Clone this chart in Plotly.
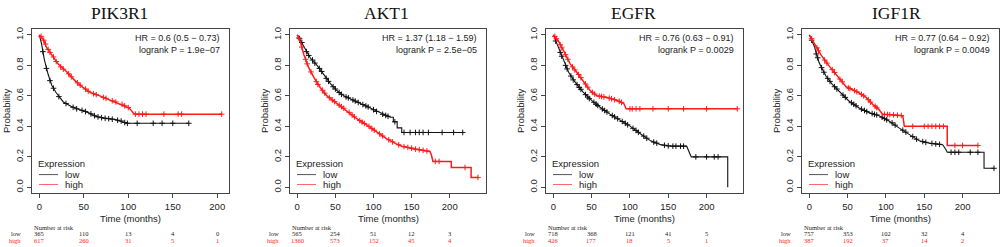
import plotly.graph_objects as go

W, H = 1003, 247

# ---------------- data ----------------
genes = ["PIK3R1", "AKT1", "EGFR", "IGF1R"]
hr_text = ["HR = 0.6 (0.5 − 0.73)", "HR = 1.37 (1.18 − 1.59)",
           "HR = 0.76 (0.63 − 0.91)", "HR = 0.77 (0.64 − 0.92)"]
p_text = ["logrank P = 1.9e−07", "logrank P = 2.5e−05",
          "logrank P = 0.0029", "logrank P = 0.0049"]
x_ticks = [0, 50, 100, 150, 200]
y_ticks = [0.0, 0.2, 0.4, 0.6, 0.8, 1.0]
y_ticklabels = ["0.0", "0.2", "0.4", "0.6", "0.8", "1.0"]
risk_low = [[365, 110, 13, 4, 0], [565, 254, 51, 12, 3],
            [718, 368, 121, 41, 5], [757, 353, 102, 32, 4]]
risk_high = [[617, 260, 31, 5, 1], [1360, 573, 152, 45, 4],
             [426, 177, 18, 5, 1], [387, 192, 37, 14, 2]]
x_max = [205, 238, 238, 238]

# PIK3R1
pik3r1_low_t = [0, 2.6, 5.6, 10, 14, 19, 27, 36, 45, 55, 64, 72, 86, 95, 98, 168]
pik3r1_low_s = [1.0, 0.94, 0.84, 0.74, 0.67, 0.62, 0.56, 0.53, 0.51, 0.49, 0.465, 0.455, 0.445, 0.43, 0.42, 0.42]
pik3r1_low_ct = [4, 8, 12, 16, 22, 30, 38, 42, 48, 52, 58, 62, 66, 70, 74, 78, 82, 88, 92, 96, 99, 110, 128, 138, 150, 168]
pik3r1_low_cs = [0.89, 0.78, 0.70, 0.65, 0.595, 0.55, 0.525, 0.515, 0.505, 0.497, 0.482, 0.47, 0.462, 0.457, 0.453, 0.45, 0.447, 0.44, 0.435, 0.425, 0.42, 0.42, 0.42, 0.42, 0.42, 0.42]
pik3r1_high_t = [0, 4.5, 8, 14, 21, 30.5, 40, 49, 58, 68, 79, 90, 98, 101, 104, 106, 109, 205]
pik3r1_high_s = [1.0, 0.97, 0.92, 0.87, 0.81, 0.76, 0.70, 0.655, 0.62, 0.60, 0.575, 0.55, 0.53, 0.52, 0.50, 0.485, 0.48, 0.48]
pik3r1_high_ct = [2, 5, 7, 10, 12, 16, 19, 24, 27, 33, 36, 43, 46, 52, 55, 61, 64, 72, 75, 82, 86, 93, 96, 100, 108, 112, 116, 120, 140, 156, 160, 205]
pik3r1_high_cs = [0.99, 0.965, 0.94, 0.905, 0.885, 0.855, 0.825, 0.79, 0.775, 0.745, 0.725, 0.685, 0.67, 0.645, 0.63, 0.614, 0.608, 0.59, 0.584, 0.568, 0.56, 0.545, 0.535, 0.523, 0.48, 0.48, 0.48, 0.48, 0.48, 0.48, 0.48, 0.48]

# AKT1
akt1_low_t = [0, 8.7, 17, 26, 35, 43.5, 52, 61, 70, 83, 96, 109, 122, 126, 126, 131, 131, 137, 137, 217]
akt1_low_s = [1.0, 0.925, 0.85, 0.80, 0.74, 0.68, 0.635, 0.60, 0.58, 0.55, 0.52, 0.485, 0.46, 0.46, 0.43, 0.43, 0.39, 0.39, 0.36, 0.36]
akt1_low_ct = [3, 6, 12, 15, 20, 23, 29, 32, 38, 41, 47, 50, 55, 58, 64, 67, 73, 76, 80, 86, 90, 93, 100, 104, 112, 116, 119, 128, 140, 148, 155, 160, 165, 172, 190, 205, 217]
akt1_low_cs = [0.975, 0.95, 0.89, 0.865, 0.835, 0.815, 0.78, 0.76, 0.715, 0.695, 0.66, 0.645, 0.622, 0.61, 0.593, 0.587, 0.573, 0.566, 0.557, 0.543, 0.534, 0.527, 0.509, 0.498, 0.479, 0.472, 0.466, 0.43, 0.36, 0.36, 0.36, 0.36, 0.36, 0.36, 0.36, 0.36, 0.36]
akt1_high_t = [0, 4.3, 8.7, 15, 22, 30, 39, 52, 65, 78, 91, 104, 117, 130, 137, 156, 174, 176, 178, 202, 202, 228, 228, 237]
akt1_high_s = [1.0, 0.95, 0.87, 0.785, 0.72, 0.655, 0.60, 0.55, 0.505, 0.45, 0.41, 0.365, 0.32, 0.285, 0.27, 0.25, 0.235, 0.21, 0.17, 0.17, 0.13, 0.13, 0.065, 0.065]
akt1_high_ct = [2, 6, 11, 13, 18, 25, 27, 33, 36, 42, 46, 49, 55, 58, 61, 68, 72, 75, 82, 85, 88, 94, 98, 101, 108, 112, 120, 125, 133, 140, 145, 150, 155, 160, 165, 170, 181, 186, 220, 237]
akt1_high_cs = [0.98, 0.92, 0.84, 0.81, 0.757, 0.693, 0.675, 0.637, 0.618, 0.588, 0.573, 0.562, 0.539, 0.529, 0.519, 0.492, 0.475, 0.462, 0.438, 0.428, 0.419, 0.40, 0.385, 0.375, 0.351, 0.337, 0.312, 0.298, 0.279, 0.267, 0.262, 0.257, 0.251, 0.247, 0.243, 0.239, 0.17, 0.17, 0.13, 0.065]

# EGFR
egfr_low_t = [0, 6.6, 13, 20, 28.5, 39, 50, 61, 74, 87.5, 100.6, 114, 127, 140, 153, 174, 176, 180, 227.6, 227.6]
egfr_low_s = [1.0, 0.92, 0.83, 0.755, 0.69, 0.625, 0.57, 0.525, 0.48, 0.44, 0.40, 0.35, 0.305, 0.28, 0.27, 0.27, 0.245, 0.20, 0.20, 0.0]
egfr_low_ct = [3, 9, 11, 16, 18, 23, 26, 31, 34, 36, 42, 45, 47, 53, 56, 58, 64, 67, 70, 77, 80, 84, 90, 94, 97, 104, 108, 111, 118, 122, 131, 135, 145, 150, 156, 160, 166, 170, 186, 200, 210, 215]
egfr_low_cs = [0.96, 0.885, 0.86, 0.80, 0.777, 0.73, 0.705, 0.674, 0.655, 0.643, 0.608, 0.592, 0.582, 0.558, 0.545, 0.537, 0.514, 0.504, 0.494, 0.471, 0.462, 0.45, 0.432, 0.42, 0.41, 0.387, 0.373, 0.361, 0.336, 0.322, 0.297, 0.29, 0.276, 0.272, 0.27, 0.27, 0.27, 0.27, 0.20, 0.20, 0.20, 0.20]
egfr_high_t = [0, 6.6, 13, 22, 30.6, 39, 48, 57, 70, 83, 92, 95, 97, 240]
egfr_high_s = [1.0, 0.96, 0.90, 0.81, 0.755, 0.70, 0.635, 0.60, 0.59, 0.57, 0.55, 0.515, 0.515, 0.515]
egfr_high_ct = [2, 4, 9, 11, 16, 19, 25, 28, 33, 36, 42, 45, 51, 54, 60, 63, 66, 73, 76, 80, 86, 89, 100, 103, 108, 113, 130, 150, 170, 200, 240]
egfr_high_cs = [0.99, 0.975, 0.935, 0.915, 0.87, 0.84, 0.79, 0.77, 0.74, 0.72, 0.678, 0.657, 0.623, 0.612, 0.598, 0.596, 0.593, 0.585, 0.581, 0.575, 0.565, 0.558, 0.515, 0.515, 0.515, 0.515, 0.515, 0.515, 0.515, 0.515, 0.515]

# IGF1R
igf1r_low_t = [0, 6.5, 13, 21.7, 30, 41, 52, 65, 78, 91, 104, 117, 130, 143.5, 156.5, 174, 178, 180, 228, 228, 241]
igf1r_low_s = [1.0, 0.925, 0.815, 0.73, 0.675, 0.62, 0.565, 0.52, 0.49, 0.47, 0.435, 0.39, 0.35, 0.305, 0.29, 0.28, 0.25, 0.23, 0.23, 0.125, 0.125]
igf1r_low_ct = [3, 9, 11, 16, 19, 24, 27, 33, 36, 44, 47, 55, 58, 61, 68, 72, 75, 82, 85, 88, 95, 98, 101, 108, 112, 122, 126, 135, 140, 148, 152, 160, 165, 170, 185, 190, 195, 210, 220, 241]
igf1r_low_cs = [0.965, 0.875, 0.85, 0.785, 0.755, 0.715, 0.695, 0.66, 0.645, 0.605, 0.59, 0.555, 0.545, 0.535, 0.513, 0.504, 0.497, 0.484, 0.479, 0.475, 0.46, 0.452, 0.443, 0.423, 0.408, 0.375, 0.362, 0.333, 0.316, 0.30, 0.295, 0.288, 0.285, 0.282, 0.23, 0.23, 0.23, 0.23, 0.23, 0.125]
igf1r_high_t = [0, 6.5, 15, 26, 37, 48, 56.5, 65, 74, 82.6, 91, 95.6, 122, 124, 180, 180, 220]
igf1r_high_s = [1.0, 0.945, 0.87, 0.795, 0.73, 0.66, 0.64, 0.62, 0.59, 0.545, 0.51, 0.48, 0.47, 0.40, 0.40, 0.275, 0.275]
igf1r_high_ct = [3, 10, 12, 20, 23, 30, 33, 40, 43, 51, 53, 59, 62, 68, 71, 77, 80, 86, 88, 98, 102, 105, 110, 115, 120, 135, 150, 155, 160, 165, 170, 175, 190, 200, 220]
igf1r_high_cs = [0.975, 0.915, 0.895, 0.835, 0.815, 0.772, 0.753, 0.71, 0.692, 0.652, 0.648, 0.634, 0.627, 0.61, 0.60, 0.575, 0.559, 0.532, 0.522, 0.479, 0.478, 0.477, 0.475, 0.473, 0.471, 0.40, 0.40, 0.40, 0.40, 0.40, 0.40, 0.40, 0.275, 0.275, 0.275]

curves = [
    (pik3r1_low_t, pik3r1_low_s, pik3r1_low_ct, pik3r1_low_cs,
     pik3r1_high_t, pik3r1_high_s, pik3r1_high_ct, pik3r1_high_cs),
    (akt1_low_t, akt1_low_s, akt1_low_ct, akt1_low_cs,
     akt1_high_t, akt1_high_s, akt1_high_ct, akt1_high_cs),
    (egfr_low_t, egfr_low_s, egfr_low_ct, egfr_low_cs,
     egfr_high_t, egfr_high_s, egfr_high_ct, egfr_high_cs),
    (igf1r_low_t, igf1r_low_s, igf1r_low_ct, igf1r_low_cs,
     igf1r_high_t, igf1r_high_s, igf1r_high_ct, igf1r_high_cs),
]

# ---------------- layout geometry (pixels) ----------------
box_left = [32, 290, 546, 802]
box_right = [229, 486, 743, 999]
box_top, box_bottom = 27, 193
title_cx = [119.5, 386, 633.5, 896]

SANS = "Liberation Sans, Arial, sans-serif"
SERIF = "Liberation Serif, Times New Roman, serif"
RED = "#ff1a1a"
BLACK = "#111111"
AXC = "#444444"


def px(x):
    return x / W


def py(y):
    return 1 - y / H


fig = go.Figure()
annotations = []
shapes = []
layout = dict(width=W, height=H, autosize=False,
              margin=dict(l=0, r=0, t=0, b=0),
              paper_bgcolor="white", plot_bgcolor="white",
              showlegend=False)

for i in range(4):
    sfx = "" if i == 0 else str(i + 1)
    xa, ya = "x" + sfx, "y" + sfx
    lt, ls, lct, lcs, ht, hs, hct, hcs = curves[i]
    fig.add_trace(go.Scatter(x=lt, y=ls, mode="lines", xaxis=xa, yaxis=ya,
                             line=dict(color=BLACK, width=1.1), hoverinfo="skip"))
    fig.add_trace(go.Scatter(x=lct, y=lcs, mode="markers", xaxis=xa, yaxis=ya,
                             marker=dict(symbol="cross-thin", size=4,
                                         line=dict(color=BLACK, width=1)),
                             hoverinfo="skip"))
    fig.add_trace(go.Scatter(x=ht, y=hs, mode="lines", xaxis=xa, yaxis=ya,
                             line=dict(color=RED, width=1.5), hoverinfo="skip"))
    fig.add_trace(go.Scatter(x=hct, y=hcs, mode="markers", xaxis=xa, yaxis=ya,
                             marker=dict(symbol="cross-thin", size=4,
                                         line=dict(color=RED, width=1)),
                             hoverinfo="skip"))

    xm = x_max[i]
    layout["xaxis" + sfx] = dict(
        domain=[px(box_left[i]), px(box_right[i])], anchor=ya,
        range=[-0.04 * xm, 1.04 * xm], tickvals=x_ticks,
        showline=True, mirror=True, linecolor=AXC, linewidth=1,
        ticks="outside", ticklen=4, tickcolor=AXC, showgrid=False,
        zeroline=False, fixedrange=True,
        tickfont=dict(family=SANS, size=9.5, color="#222"))
    layout["yaxis" + sfx] = dict(
        domain=[py(box_bottom), py(box_top)], anchor=xa,
        range=[-0.04, 1.04], tickvals=y_ticks, ticktext=y_ticklabels,
        tickangle=-90,
        showline=True, mirror=True, linecolor=AXC, linewidth=1,
        ticks="outside", ticklen=4, tickcolor=AXC, showgrid=False,
        zeroline=False, fixedrange=True,
        tickfont=dict(family=SANS, size=9.5, color="#222"))

    L, R = box_left[i], box_right[i]
    cx = (L + R) / 2
    annotations.append(dict(text=genes[i], x=px(title_cx[i]), y=py(11),
                            xref="paper", yref="paper", showarrow=False,
                            xanchor="center", yanchor="middle",
                            font=dict(family=SERIF, size=17.5, color="#111")))
    annotations.append(dict(text=hr_text[i], x=px(R - 7), y=py(36),
                            xref="paper", yref="paper", showarrow=False,
                            xanchor="right", yanchor="middle",
                            font=dict(family=SANS, size=9, color="#222")))
    annotations.append(dict(text=p_text[i], x=px(R - 7), y=py(48),
                            xref="paper", yref="paper", showarrow=False,
                            xanchor="right", yanchor="middle",
                            font=dict(family=SANS, size=9, color="#222")))
    annotations.append(dict(text="Probability", x=px(L - 26), y=py((box_top + box_bottom) / 2),
                            xref="paper", yref="paper", showarrow=False,
                            textangle=-90, xanchor="center", yanchor="middle",
                            font=dict(family=SANS, size=9.5, color="#222")))
    annotations.append(dict(text="Time (months)", x=px(cx), y=py(218),
                            xref="paper", yref="paper", showarrow=False,
                            xanchor="center", yanchor="middle",
                            font=dict(family=SANS, size=9.5, color="#222")))
    annotations.append(dict(text="Expression", x=px(L + 4), y=py(163),
                            xref="paper", yref="paper", showarrow=False,
                            xanchor="left", yanchor="middle",
                            font=dict(family=SANS, size=9.5, color="#222")))
    for lab, yy, col in (("low", 174, "#555555"), ("high", 184, "#ff6666")):
        shapes.append(dict(type="line", xref="paper", yref="paper",
                           x0=px(L + 7), x1=px(L + 26), y0=py(yy), y1=py(yy),
                           line=dict(color=col, width=1)))
        annotations.append(dict(text=lab, x=px(L + 31), y=py(yy),
                                xref="paper", yref="paper", showarrow=False,
                                xanchor="left", yanchor="middle",
                                font=dict(family=SANS, size=9.5, color="#222")))
    annotations.append(dict(text="Number at risk", x=px(L), y=py(227),
                            xref="paper", yref="paper", showarrow=False,
                            xanchor="left", yanchor="middle",
                            font=dict(family=SERIF, size=6.5, color="#222")))
    annotations.append(dict(text="low", x=px(L - 9), y=py(233.5),
                            xref="paper", yref="paper", showarrow=False,
                            xanchor="right", yanchor="middle",
                            font=dict(family=SERIF, size=6.5, color="#222")))
    annotations.append(dict(text="high", x=px(L - 9), y=py(240),
                            xref="paper", yref="paper", showarrow=False,
                            xanchor="right", yanchor="middle",
                            font=dict(family=SERIF, size=6.5, color=RED)))
    for t, nl, nh in zip(x_ticks, risk_low[i], risk_high[i]):
        annotations.append(dict(text=str(nl), x=t, y=py(233.5), xref=xa,
                                yref="paper", showarrow=False,
                                xanchor="center", yanchor="middle",
                                font=dict(family=SERIF, size=6.5, color="#222")))
        annotations.append(dict(text=str(nh), x=t, y=py(240), xref=xa,
                                yref="paper", showarrow=False,
                                xanchor="center", yanchor="middle",
                                font=dict(family=SERIF, size=6.5, color=RED)))

layout["annotations"] = annotations
layout["shapes"] = shapes
fig.update_layout(**layout)
fig.write_html("out.html", config={"displayModeBar": False, "staticPlot": True},
               post_script="document.body.style.margin='0';document.body.style.padding='0';document.body.style.overflow='hidden';")
